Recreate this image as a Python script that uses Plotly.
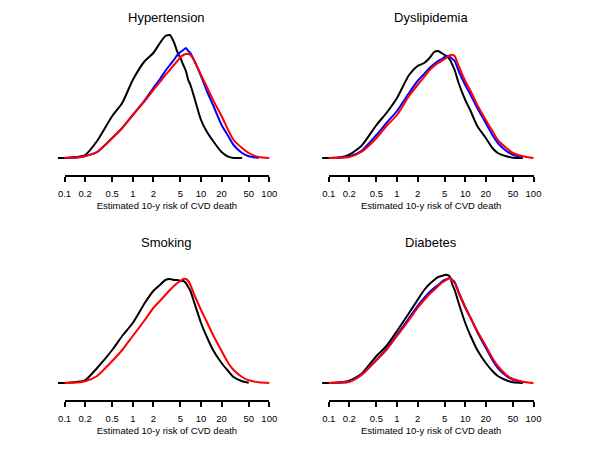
import plotly.graph_objects as go

# ---- data (estimated 10-y risk of CVD death, %) and density ----
RISK = [0.08, 0.1, 0.15, 0.2, 0.3, 0.5, 0.7, 1, 1.5, 2, 2.5, 3, 3.5, 4, 4.5, 5, 5.5,
        6, 6.5, 7, 8, 10, 12, 15, 20, 25, 30, 40, 50, 70, 100]
N = None

TITLES = ["Hypertension", "Dyslipidemia", "Smoking", "Diabetes"]
TICK_VALS = [0.1, 0.2, 0.5, 1, 2, 5, 10, 20, 50, 100]
TICK_TEXT = ["0.1", "0.2", "0.5", "1", "2", "5", "10", "20", "50", "100"]
X_TITLE = "Estimated 10-y risk of CVD death"

HT_BLACK = [0, 0, 0.01, 0.03, 0.17, 0.42, 0.55, 0.78, 0.97, 1.05, 1.15, 1.22, 1.23, 1.16, 1.06,
            1.00, 0.93, 0.87, 0.78, 0.73, 0.60, 0.38, 0.27, 0.17, 0.06, 0.013, 0, 0, N, N, N]
HT_BLUE = [N, 0, 0.005, 0.02, 0.06, 0.20, 0.30, 0.43, 0.58, 0.70, 0.79, 0.87, 0.93, 0.98, 1.03,
           1.06, 1.08, 1.10, 1.07, 1.05, 0.97, 0.82, 0.68, 0.53, 0.33, 0.22, 0.13, 0.05, 0.017, 0, N]
HT_RED = [N, 0, 0.005, 0.017, 0.06, 0.20, 0.30, 0.43, 0.57, 0.68, 0.76, 0.83, 0.88, 0.93, 0.97,
          1.01, 1.03, 1.04, 1.04, 1.03, 0.97, 0.83, 0.72, 0.58, 0.42, 0.28, 0.18, 0.10, 0.05, 0.01, 0]

DY_BLACK = [0, 0, 0.007, 0.033, 0.12, 0.33, 0.45, 0.60, 0.83, 0.92, 0.95, 1.00, 1.06, 1.07, 1.05,
            1.03, 1.01, 0.98, 0.93, 0.88, 0.75, 0.58, 0.47, 0.32, 0.20, 0.10, 0.05, 0.017, 0.003, 0, N]
DY_BLUE = [N, 0, 0.005, 0.017, 0.07, 0.23, 0.35, 0.47, 0.65, 0.77, 0.84, 0.90, 0.94, 0.97, 0.99,
           1.01, 1.02, 1.01, 0.99, 0.97, 0.87, 0.73, 0.63, 0.50, 0.35, 0.23, 0.15, 0.07, 0.033, 0.007, N]
DY_RED = [N, 0, 0.003, 0.01, 0.06, 0.20, 0.32, 0.43, 0.62, 0.73, 0.81, 0.88, 0.92, 0.95, 0.97,
          0.99, 1.01, 1.03, 1.03, 1.02, 0.92, 0.77, 0.67, 0.53, 0.38, 0.27, 0.18, 0.10, 0.05, 0.017, 0]

SM_BLACK = [0, 0, 0.01, 0.027, 0.15, 0.33, 0.47, 0.60, 0.80, 0.92, 0.98, 1.03, 1.04, 1.03, 1.03,
            1.02, 1.02, 1.00, 0.96, 0.92, 0.80, 0.60, 0.47, 0.33, 0.20, 0.12, 0.06, 0.017, 0.003, N, N]
SM_RED = [N, 0, 0.005, 0.017, 0.07, 0.22, 0.33, 0.47, 0.63, 0.75, 0.82, 0.88, 0.93, 0.97, 1.00,
          1.02, 1.04, 1.04, 1.02, 0.98, 0.88, 0.73, 0.62, 0.48, 0.32, 0.20, 0.13, 0.06, 0.027, 0.007, 0]

DI_BLACK = [0, 0, 0.007, 0.023, 0.09, 0.27, 0.37, 0.52, 0.70, 0.83, 0.93, 0.99, 1.03, 1.06, 1.07,
            1.08, 1.08, 1.06, 0.98, 0.93, 0.80, 0.60, 0.47, 0.33, 0.20, 0.12, 0.07, 0.027, 0.007, 0, N]
DI_BLUE = [N, 0, 0.005, 0.013, 0.08, 0.23, 0.34, 0.48, 0.65, 0.77, 0.85, 0.91, 0.95, 0.98, 1.01,
           1.03, 1.04, 1.05, 1.03, 1.01, 0.91, 0.76, 0.65, 0.51, 0.35, 0.23, 0.15, 0.07, 0.033, 0.007, N]
DI_RED = [N, 0, 0.005, 0.013, 0.08, 0.23, 0.33, 0.47, 0.63, 0.75, 0.83, 0.89, 0.93, 0.97, 1.00,
          1.02, 1.04, 1.05, 1.02, 1.00, 0.90, 0.75, 0.65, 0.52, 0.37, 0.25, 0.17, 0.08, 0.04, 0.013, 0]

PANELS = [
    [("black", HT_BLACK), ("blue", HT_BLUE), ("red", HT_RED)],
    [("black", DY_BLACK), ("blue", DY_BLUE), ("red", DY_RED)],
    [("black", SM_BLACK), ("red", SM_RED)],
    [("black", DI_BLACK), ("blue", DI_BLUE), ("red", DI_RED)],
]

# ---- layout geometry (pixels in a 600x450 page) ----
W, H = 600, 450
FONT = "Liberation Sans, Arial, sans-serif"
# per panel: left of tick axis, right of tick axis, baseline y of curves, axis line y, title y
GEOM = [
    (59, 269, 158, 175, 17),
    (330, 540, 158, 175, 17),
    (59, 269, 383, 400, 242),
    (330, 540, 383, 400, 242),
]

def fx(px):
    return px / W

def fy(py):
    return 1 - py / H

fig = go.Figure()
layout = dict(width=W, height=H, margin=dict(l=0, r=0, t=0, b=0),
              paper_bgcolor="white", plot_bgcolor="white", showlegend=False,
              font=dict(family=FONT, color="black"))
annotations = []

for i, (curves, title, g) in enumerate(zip(PANELS, TITLES, GEOM)):
    x0, x1, base, axy, ty = g
    ppd = (x1 - x0) / 3.0  # pixels per decade
    cl, cr = x0 - 14, x1 + 16
    k = i + 1
    xa, ya = f"x{k}", f"y{k}"
    layout[f"xaxis{k}"] = dict(domain=[fx(cl), fx(cr)], type="log",
                               range=[-1 + (cl - x0) / ppd, 2 + (cr - x1) / ppd],
                               visible=False, anchor=ya, fixedrange=True)
    layout[f"yaxis{k}"] = dict(domain=[fy(base + 5), fy(base - 130)], range=[-0.05, 1.30],
                               visible=False, anchor=xa, fixedrange=True)
    for color, dens in curves:
        fig.add_trace(go.Scatter(x=RISK, y=dens, mode="lines", xaxis=xa, yaxis=ya,
                                 line=dict(color=color, width=2, shape="spline", smoothing=0.6),
                                 connectgaps=False, hoverinfo="skip"))
    kk = i + 5
    xb, yb = f"x{kk}", f"y{kk}"
    layout[f"xaxis{kk}"] = dict(domain=[fx(x0), fx(x1)], type="log", range=[-1, 2],
                                anchor=yb, tickvals=TICK_VALS, ticktext=TICK_TEXT,
                                ticks="outside", ticklen=5, tickwidth=2, tickcolor="black",
                                showline=True, linecolor="black", linewidth=2,
                                showgrid=False, zeroline=False, tickangle=0,
                                ticklabelstandoff=4,
                                tickfont=dict(size=9.5, family=FONT, color="black"),
                                title=dict(text=X_TITLE, font=dict(size=9.5, family=FONT),
                                           standoff=4),
                                fixedrange=True)
    layout[f"yaxis{kk}"] = dict(domain=[fy(axy), fy(axy - 4)], range=[0, 1], visible=False,
                                anchor=xb, fixedrange=True)
    fig.add_trace(go.Scatter(x=[0.1, 100], y=[None, None], mode="lines", xaxis=xb, yaxis=yb,
                             hoverinfo="skip", showlegend=False))
    annotations.append(dict(text=title, x=fx((x0 + x1) / 2), y=fy(ty), xref="paper",
                            yref="paper", xanchor="center", yanchor="middle", showarrow=False,
                            font=dict(size=13, family=FONT, color="black")))

layout["annotations"] = annotations
fig.update_layout(**layout)
fig.write_html("out.html", config={"displayModeBar": False},
               post_script="document.body.style.margin='0';document.body.style.overflow='hidden';")
